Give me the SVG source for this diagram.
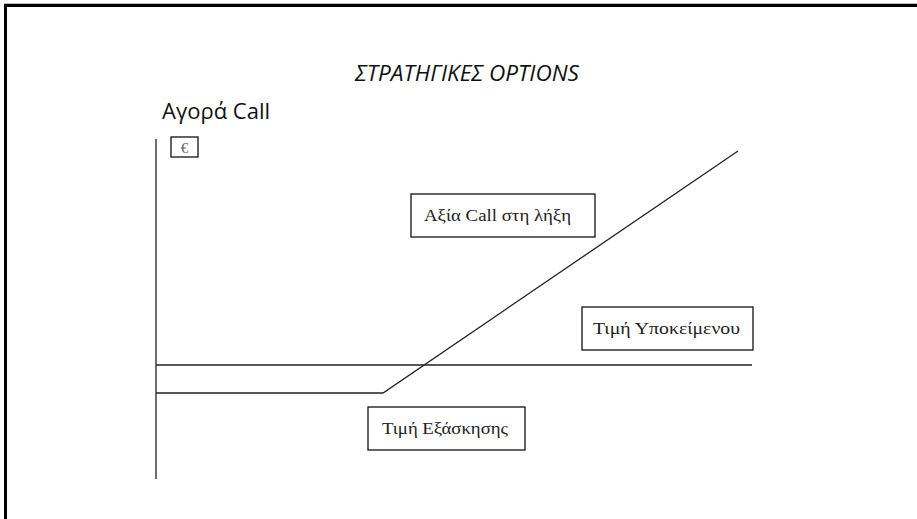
<svg xmlns="http://www.w3.org/2000/svg" width="917" height="519" viewBox="0 0 917 519">
  <style>
    .frame { fill: none; stroke: #000; stroke-width: 3; }
    .axis { fill: none; stroke: #222; stroke-width: 1.3; }
    .box rect { fill: #fff; stroke: #111; stroke-width: 1.3; }
    .box text { font-family: "Liberation Serif", "Times New Roman", serif; font-size: 16.5px; fill: #222; }
    .head { font-family: "Open Sans", "Noto Sans", sans-serif; fill: #111; }
  </style>
  <rect width="917" height="519" fill="#fff"/>
  <!-- slide frame, cut off at the right and bottom -->
  <path class="frame" d="M5.5,530 V5.5 H930"/>
  <line x1="4" y1="3.5" x2="917" y2="3.5" stroke="#bbb" stroke-width="1"/>

  <text class="head" x="355" y="81" font-size="21" font-style="italic" textLength="224" lengthAdjust="spacingAndGlyphs">ΣΤΡΑΤΗΓΙΚΕΣ OPTIONS</text>
  <text class="head" x="162" y="119" font-size="21.5" textLength="108" lengthAdjust="spacingAndGlyphs">Αγορά Call</text>

  <g id="connectors">
    <!-- vertical value axis -->
    <line class="axis" x1="156" y1="139" x2="156" y2="479"/>
    <!-- underlying price level -->
    <line class="axis" x1="156" y1="365" x2="752" y2="365"/>
    <!-- call payoff at expiry -->
    <polyline class="axis" points="156,393 383,393 738,151"/>
  </g>

  <g id="euro" class="box">
    <rect x="171" y="137" width="27" height="20"/>
    <text x="184.5" y="152.5" text-anchor="middle" style="font-size:15px;fill:#666">€</text>
  </g>
  <g id="call-value" class="box">
    <rect x="411" y="194" width="184" height="43"/>
    <text x="424" y="221" textLength="147" lengthAdjust="spacingAndGlyphs">Αξία Call στη λήξη</text>
  </g>
  <g id="underlying-price" class="box">
    <rect x="582" y="307" width="171" height="43"/>
    <text x="593" y="334" textLength="147" lengthAdjust="spacingAndGlyphs">Τιμή Υποκείμενου</text>
  </g>
  <g id="strike-price" class="box">
    <rect x="368" y="407" width="157" height="43"/>
    <text x="382" y="434" textLength="126" lengthAdjust="spacingAndGlyphs">Τιμή Εξάσκησης</text>
  </g>
</svg>
